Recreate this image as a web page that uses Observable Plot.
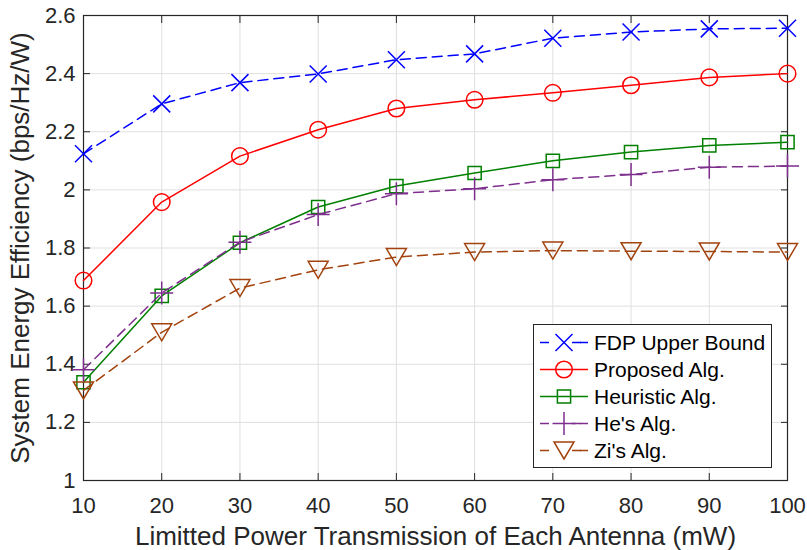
<!DOCTYPE html>
<html>
<head>
<meta charset="utf-8">
<script src="https://cdn.jsdelivr.net/npm/d3@7"></script>
<script src="https://cdn.jsdelivr.net/npm/@observablehq/plot@0.6"></script>
<style>
  html, body { margin: 0; padding: 0; background: #fff; }
  #wrap { position: relative; width: 807px; height: 550px; font-family: "Liberation Sans", Arial, sans-serif; color: #262626; }
  #legend { position: absolute; left: 533px; top: 324px; width: 237px; height: 138px; border: 1px solid #262626; background: #fff; padding-top: 4px; box-sizing: content-box; }
  .row { display: flex; align-items: center; height: 27px; }
  .row svg { margin-left: 5px; margin-right: 5px; }
  .row span { font-size: 21px; line-height: 27px; color: #000; }
</style>
</head>
<body>
<div id="wrap"><div id="legend"></div></div>
<script>
// ---- data ----
const powerMW = [10, 20, 30, 40, 50, 60, 70, 80, 90, 100];
const fdpUpperBound = [2.124, 2.296, 2.369, 2.399, 2.448, 2.468, 2.522, 2.543, 2.554, 2.556];
const proposedAlg   = [1.688, 1.958, 2.116, 2.207, 2.280, 2.310, 2.334, 2.360, 2.387, 2.400];
const heuristicAlg  = [1.338, 1.635, 1.818, 1.941, 2.013, 2.058, 2.100, 2.130, 2.153, 2.164];
const hesAlg        = [1.381, 1.645, 1.820, 1.915, 1.987, 2.004, 2.035, 2.053, 2.078, 2.082];
const zisAlg        = [1.310, 1.510, 1.662, 1.725, 1.769, 1.786, 1.791, 1.789, 1.788, 1.786];
const seriesNames = ["FDP Upper Bound", "Proposed Alg.", "Heuristic Alg.", "He's Alg.", "Zi's Alg."];
const xTicks = [10, 20, 30, 40, 50, 60, 70, 80, 90, 100];
const yTicks = [1, 1.2, 1.4, 1.6, 1.8, 2, 2.2, 2.4, 2.6];
const xLabel = "Limitted Power Transmission of Each Antenna (mW)";
const yLabel = "System Energy Efficiency (bps/Hz/W)";

// ---- styles ----
const symX = {draw(c){const r=8.5;c.moveTo(-r,-r);c.lineTo(r,r);c.moveTo(-r,r);c.lineTo(r,-r);}};
const symO = {draw(c){const r=8.3;c.moveTo(r,0);c.arc(0,0,r,0,2*Math.PI);c.closePath();}};
const symS = {draw(c){const r=6.6;c.moveTo(-r,-r);c.lineTo(r,-r);c.lineTo(r,r);c.lineTo(-r,r);c.closePath();}};
const symP = {draw(c){const r=11.5;c.moveTo(-r,0);c.lineTo(r,0);c.moveTo(0,-r);c.lineTo(0,r);}};
const symV = {draw(c){c.moveTo(-10,-8.5);c.lineTo(10,-8.5);c.lineTo(0,8.5);c.closePath();}};
const styles = [
  {color: "#0000ff", dash: "10,6", sym: symX},
  {color: "#ff0000", dash: null, sym: symO},
  {color: "#008000", dash: null, sym: symS},
  {color: "#7e2f8e", dash: "10,6", sym: symP},
  {color: "#a2420d", dash: "10,6", sym: symV}
];
const allValues = [fdpUpperBound, proposedAlg, heuristicAlg, hesAlg, zisAlg];
const tables = seriesNames.map((name, i) => powerMW.map((p, j) => ({series: name, power: p, ee: allValues[i][j]})));

const font = '"Liberation Sans", Arial, sans-serif';
const fmt = d3.format("~g");
const marks = [
  Plot.gridX(xTicks, {stroke: "#dfdfdf", strokeOpacity: 1, strokeWidth: 1}),
  Plot.gridY(yTicks, {stroke: "#dfdfdf", strokeOpacity: 1, strokeWidth: 1}),
  Plot.axisX(xTicks, {anchor: "bottom", tickSize: -7, tickPadding: 24, fontSize: 22, tickFormat: fmt, label: null, stroke: "#262626"}),
  Plot.axisX(xTicks, {anchor: "top", tickSize: -7, tickFormat: () => "", label: null, stroke: "#262626"}),
  Plot.axisY(yTicks, {anchor: "left", tickSize: -7, tickPadding: 15, fontSize: 22, tickFormat: fmt, label: null, stroke: "#262626"}),
  Plot.axisY(yTicks, {anchor: "right", tickSize: -7, tickFormat: () => "", label: null, stroke: "#262626"}),
  Plot.axisX([], {anchor: "bottom", label: xLabel, labelAnchor: "center", labelArrow: "none", labelOffset: 64, fontSize: 26, tickSize: 0}),
  Plot.axisY([], {anchor: "left", label: yLabel, labelAnchor: "center", labelArrow: "none", labelOffset: 73, fontSize: 26, tickSize: 0}),
  Plot.frame({stroke: "#262626", strokeWidth: 1.2})
];
tables.forEach((t, i) => {
  const s = styles[i];
  marks.push(Plot.line(t, {x: "power", y: "ee", stroke: s.color, strokeWidth: 1.5, strokeDasharray: s.dash || undefined}));
  marks.push(Plot.dot(t, {x: "power", y: "ee", symbol: () => s.sym, r: 5, stroke: s.color, fill: "none", strokeWidth: 1.5}));
});

const chart = Plot.plot({
  width: 807, height: 550,
  marginLeft: 83, marginRight: 20, marginTop: 15, marginBottom: 70,
  x: {domain: [10, 100]},
  y: {domain: [1, 2.6]},
  symbol: {type: "identity"},
  style: {fontFamily: font, color: "#262626", background: "white", overflow: "visible"},
  marks
});
document.getElementById("wrap").prepend(chart);

// legend
const legend = document.getElementById("legend");
seriesNames.forEach((name, i) => {
  const s = styles[i];
  const row = document.createElement("div");
  row.className = "row";
  const svg = d3.create("svg").attr("width", 50).attr("height", 27);
  svg.append("line").attr("x1", 1).attr("x2", 49).attr("y1", 13.5).attr("y2", 13.5)
    .attr("stroke", s.color).attr("stroke-width", 1.5).attr("stroke-dasharray", s.dash ? "9,23" : null);
  if (s.dash) svg.append("line").attr("x1", 41).attr("x2", 49).attr("y1", 13.5).attr("y2", 13.5).attr("stroke", s.color).attr("stroke-width", 1.5);
  svg.append("path").attr("transform", "translate(25,13.5)").attr("d", d3.symbol(s.sym)()).attr("fill", "none").attr("stroke", s.color).attr("stroke-width", 1.5);
  row.appendChild(svg.node());
  const sp = document.createElement("span");
  sp.textContent = name;
  row.appendChild(sp);
  legend.appendChild(row);
});
</script>
</body>
</html>
